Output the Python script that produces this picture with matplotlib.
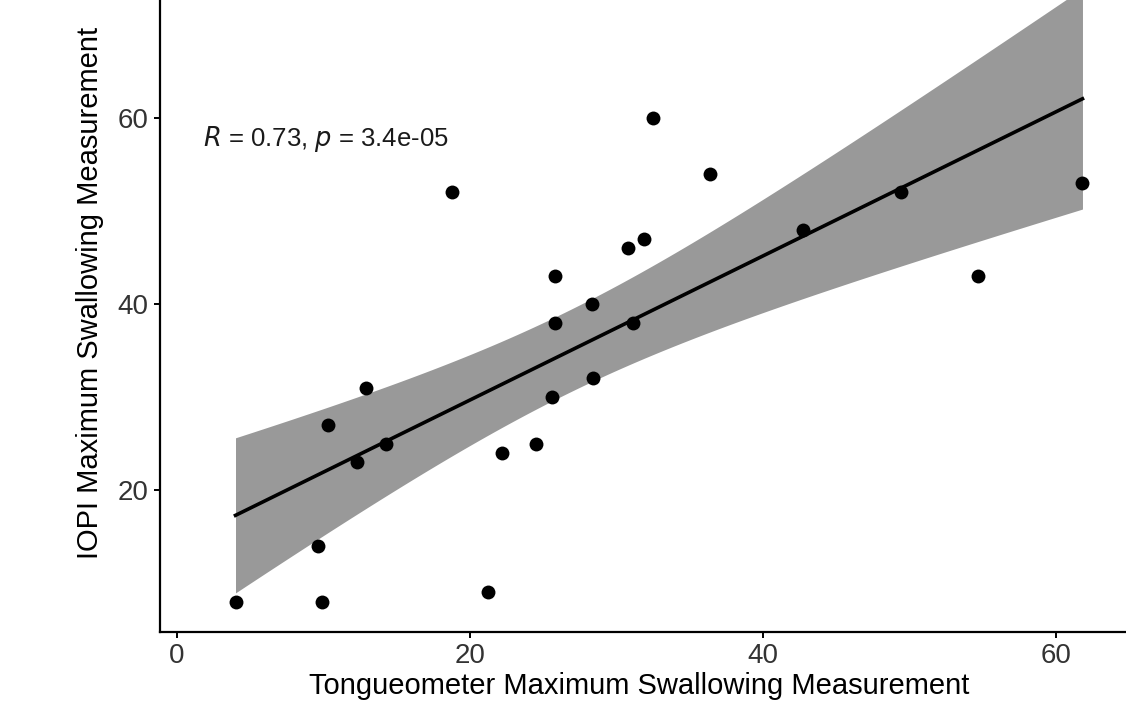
import numpy as np
import matplotlib
matplotlib.use('Agg')
from matplotlib import pyplot as plt

plt.rcParams['font.family'] = ['Liberation Sans', 'DejaVu Sans']

# tongueometer vs IOPI maximum swallowing measurements
tongueometer = [4.0, 9.9, 9.6, 21.2, 10.3, 12.3, 12.9, 14.3, 18.8, 22.2, 24.5, 25.6, 25.8,
                25.8, 28.3, 28.4, 31.1, 30.8, 31.9, 32.5, 36.4, 42.7, 49.4, 54.7, 61.8]
iopi = [8, 8, 14, 9, 27, 23, 31, 25, 52, 24, 25, 30, 43,
        38, 40, 32, 38, 46, 47, 60, 54, 48, 52, 43, 53]
annot = "$R$ = 0.73, $p$ = 3.4e-05"

x = np.array(tongueometer)
y = np.array(iopi)
n = len(x)
slope, icept = np.polyfit(x, y, 1)
xs = np.linspace(x.min(), x.max(), 200)
fit = icept + slope * xs
resid = y - (icept + slope * x)
s = np.sqrt(np.sum(resid ** 2) / (n - 2))
se = s * np.sqrt(1 / n + (xs - x.mean()) ** 2 / np.sum((x - x.mean()) ** 2))
t = 2.069  # t(0.975, df=23)

fig = plt.figure(figsize=(11.26, 7.02), dpi=100)
ax = fig.add_axes([0.142, 0.0997, 0.874, 0.944])

ax.fill_between(xs, fit - t * se, fit + t * se, color='#999999', lw=0, zorder=1)
ax.plot(xs, fit, color='black', lw=2.6, zorder=2)
ax.scatter(x, y, s=100, color='black', zorder=3, linewidths=0)
ax.text(1.77, 57.8, annot, fontsize=18.5, va='center', ha='left', color='#1a1a1a')

ax.set_xlim(-1.16, 66)
ax.set_ylim(4.73, 76)
ax.set_xticks([0, 20, 40, 60])
ax.set_yticks([20, 40, 60])
for sp in ['top', 'right']:
    ax.spines[sp].set_visible(False)
for sp in ['left', 'bottom']:
    ax.spines[sp].set_linewidth(1.6)
ax.tick_params(labelsize=20, labelcolor='#333333', width=1.4, length=4, pad=4, direction='out')

ax.set_xlabel('Tongueometer Maximum Swallowing Measurement', fontsize=21, va='top')
ax.xaxis.set_label_coords(0.487, -0.060)
ax.set_ylabel('IOPI Maximum Swallowing Measurement', fontsize=21, va='center')
ax.yaxis.set_label_coords(-0.071, 0.511)

fig.savefig('out.png', dpi=100)
